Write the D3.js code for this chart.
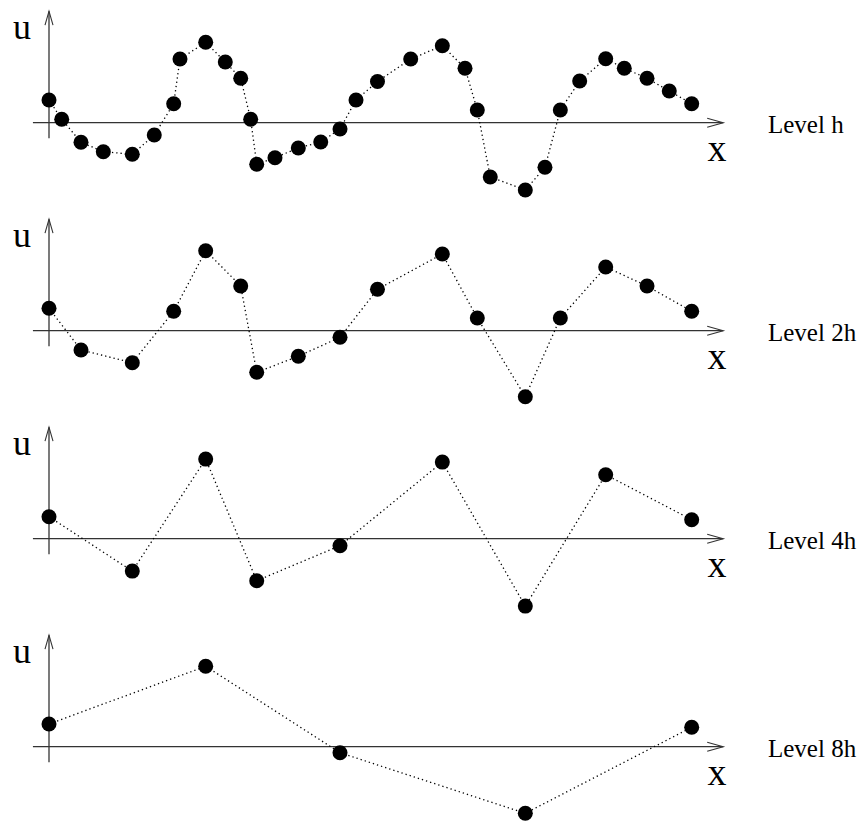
<!DOCTYPE html>
<html>
<head>
<meta charset="utf-8">
<script src="https://cdn.jsdelivr.net/npm/d3@7"></script>
<style>
  body { margin: 0; background: #fff; }
  text { font-family: "Liberation Serif", "DejaVu Serif", serif; fill: #000; }
</style>
</head>
<body>
<div id="chart"></div>
<script>
// fine grid positions along x (finest level), coarser levels take every 2nd, 4th, 8th node
const xGrid = [0, 1.98, 4.98, 8.45, 12.96, 16.38, 19.4, 20.38, 24.38, 27.43, 29.83, 31.38, 32.32,
    35.16, 38.79, 42.28, 45.28, 47.77, 51.11, 56.28, 61.2, 64.73, 66.64, 68.66, 74.11, 77.17,
    79.56, 82.57, 86.62, 89.51, 93.05, 96.51, 100]

const levelNames = ["Level h", "Level 2h", "Level 4h", "Level 8h"]
const levelStride = [1, 2, 4, 8]

const uLevelH = [2.27, 0.34, -1.96, -2.9, -3.16, -1.23, 1.9, 6.37, 8.04, 6.07, 4.44, 0.34, -4.16,
    -3.5, -2.53, -1.93, -0.63, 2.27, 4.12, 6.37, 7.7, 5.44, 1.27, -5.43, -6.73, -4.46, 1.27,
    4.17, 6.4, 5.44, 4.44, 3.17, 1.9]
const uLevel2h = [2.24, -1.93, -3.2, 1.94, 8.0, 4.47, -4.16, -2.56, -0.66, 4.14, 7.67, 1.27,
    -6.6, 1.27, 6.37, 4.47, 1.94]
const uLevel4h = [2.2, -3.24, 7.96, -4.2, -0.7, 7.66, -6.74, 6.4, 1.9]
const uLevel8h = [2.27, 8.04, -0.6, -6.66, 1.94]

const levelValues = [uLevelH, uLevel2h, uLevel4h, uLevel8h]

const width = 863
const height = 821

const svg = d3.select("#chart")
    .append("svg")
    .attr("width", width)
    .attr("height", height)

const xScale = d3.scaleLinear()
    .domain([0, 100])
    .range([49, 691.7])

// axis extents in data units
const xAxisFrom = -2.5, xAxisTo = 104.9
const uAxisFrom = -1.55, uAxisTo = 11.15

const firstAxisY = 122.7
const panelGap = 208

const line = d3.line()
    .x(d => xScale(d.x))
    .y(d => d.y)

levelValues.forEach((values, i) => {
    const axisY = firstAxisY + i * panelGap
    const uScale = d3.scaleLinear()
        .domain([0, 1])
        .range([axisY, axisY - 10])

    const points = values.map((u, k) => ({ x: xGrid[k * levelStride[i]], u: u }))

    const g = svg.append("g").attr("class", "level")

    // horizontal axis with open arrow head
    const x0 = xScale(xAxisFrom), x1 = xScale(xAxisTo)
    g.append("line")
        .attr("x1", x0).attr("x2", x1)
        .attr("y1", axisY).attr("y2", axisY)
        .attr("stroke", "#333").attr("stroke-width", 1.3)
    g.append("polyline")
        .attr("points", [[x1 - 16, axisY - 4.5], [x1, axisY], [x1 - 16, axisY + 4.5]].join(" "))
        .attr("fill", "none").attr("stroke", "#333").attr("stroke-width", 1.1)

    // vertical axis with open arrow head
    const ox = xScale(0)
    const yTop = uScale(uAxisTo), yBottom = uScale(uAxisFrom)
    g.append("line")
        .attr("x1", ox).attr("x2", ox)
        .attr("y1", yTop).attr("y2", yBottom)
        .attr("stroke", "#333").attr("stroke-width", 1.3)
    g.append("polyline")
        .attr("points", [[ox - 4, yTop + 14], [ox, yTop], [ox + 4, yTop + 14]].join(" "))
        .attr("fill", "none").attr("stroke", "#333").attr("stroke-width", 1.1)

    // dotted polyline through the nodes
    g.append("path")
        .datum(points.map(p => ({ x: p.x, y: uScale(p.u) })))
        .attr("d", line)
        .attr("fill", "none")
        .attr("stroke", "#000")
        .attr("stroke-width", 1.3)
        .attr("stroke-dasharray", "1.3,3")

    g.selectAll("circle")
        .data(points)
        .enter().append("circle")
        .attr("cx", d => xScale(d.x))
        .attr("cy", d => uScale(d.u))
        .attr("r", 7.5)
        .attr("fill", "#000")

    g.append("text")
        .attr("x", 13)
        .attr("y", axisY - 83.3)
        .attr("font-size", 36)
        .text("u")

    g.append("text")
        .attr("x", 717)
        .attr("y", axisY + 38.5)
        .attr("text-anchor", "middle")
        .attr("font-size", 38)
        .text("x")

    g.append("text")
        .attr("x", 768)
        .attr("y", axisY + 10)
        .attr("font-size", 25)
        .text(levelNames[i])
})
</script>
</body>
</html>
